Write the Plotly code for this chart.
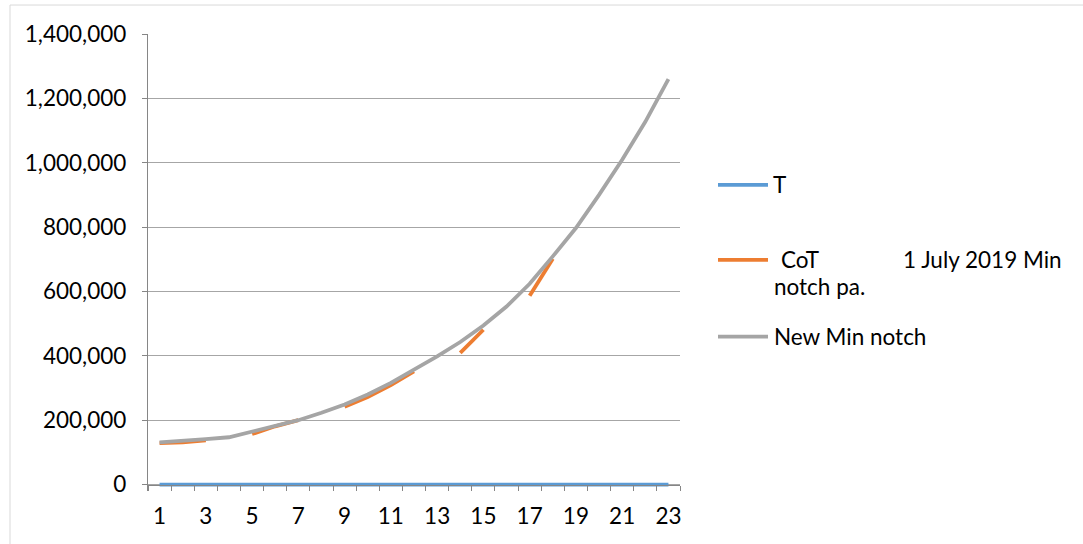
import plotly.graph_objects as go

# Categories along the x axis
periods = list(range(1, 24))

# Series values
t_values = [0] * 23
cot_values = [129000, 131000, 137000, None, 157000, 181000, 200000, None,
              242000, 272000, 309000, 352000, None, 409000, 481000, None,
              587000, 702000, None, None, None, None, None]
new_min_notch = [131000, 135000, 141000, 147000, 165000, 183000, 200000, 223000,
                 249000, 280000, 316000, 357000, 398000, 443000, 494000, 553000,
                 624000, 709000, 797000, 900000, 1009000, 1127000, 1260000]

# Axis tick labels
x_tick_labels = [str(p) for p in range(1, 24, 2)]
y_tick_values = [0, 200000, 400000, 600000, 800000, 1000000, 1200000, 1400000]

series_names = ["T", "CoT", "New Min notch"]
colors = ["#5b9bd5", "#ed7d31", "#a5a5a5"]

W, H = 1083, 544
Y_MAX = 1400000
Y_LOW = -20000            # small headroom below zero so the zero-valued line is not clipped
ZERO_PX, TOP_PX = 485, 34
px_per_unit = (ZERO_PX - TOP_PX) / Y_MAX
ML, MR, MT = 148, 403, TOP_PX
MB = H - ZERO_PX - (-Y_LOW) * px_per_unit
PW, PH = W - ML - MR, H - MT - MB


def px_x(px):
    return (px - ML) / PW


def px_y(py):
    return (H - MB - py) / PH


FONT = "Lato"
FS = 22.5
TEXT_COLOR = "#000000"
LW = 3.8

fig = go.Figure()
for name, vals, col in zip(series_names, [t_values, cot_values, new_min_notch], colors):
    fig.add_trace(go.Scatter(
        x=periods, y=vals, name=name, mode="lines",
        line=dict(color=col, width=LW), connectgaps=False,
        showlegend=False, hoverinfo="x+y+name",
    ))

# Legend drawn as line samples plus labels
legend_rows = [185, 260, 337]
shapes = []
for row, col in zip(legend_rows, colors):
    shapes.append(dict(type="line", xref="paper", yref="paper",
                       x0=px_x(718), x1=px_x(768), y0=px_y(row), y1=px_y(row),
                       line=dict(color=col, width=LW)))
# Outer chart frame
shapes.append(dict(type="rect", xref="paper", yref="paper",
                   x0=px_x(10), x1=px_x(1100), y0=px_y(560), y1=px_y(5),
                   line=dict(color="#d9d9d9", width=1), fillcolor="rgba(0,0,0,0)",
                   layer="below"))

annotations = []


def add_label(text, px, py):
    annotations.append(dict(text=text, xref="paper", yref="paper",
                            x=px_x(px), y=px_y(py), xanchor="left", yanchor="middle",
                            showarrow=False, font=dict(family=FONT, size=FS, color=TEXT_COLOR)))


add_label("T", 771, legend_rows[0])
add_label("CoT", 779, legend_rows[1])
add_label("1 July 2019 Min", 901, legend_rows[1])
add_label("notch pa.", 772, legend_rows[1] + 27)
add_label("New Min notch", 772, legend_rows[2])

fig.update_layout(
    width=W, height=H,
    margin=dict(l=ML, r=MR, t=MT, b=MB, pad=0),
    paper_bgcolor="white", plot_bgcolor="white",
    showlegend=False,
    shapes=shapes, annotations=annotations,
    font=dict(family=FONT, size=FS, color=TEXT_COLOR),
    xaxis=dict(
        range=[0.5, 23.5], tickmode="array",
        tickvals=list(range(1, 24, 2)), ticktext=x_tick_labels,
        ticks="", showgrid=False, zeroline=False,
        anchor="free", position=(0 - Y_LOW) / (Y_MAX - Y_LOW),
        showline=True, linecolor="#868686", linewidth=1.3,
        ticklabelstandoff=11,
        minor=dict(ticks="outside", tick0=0.5, dtick=1, ticklen=5,
                   tickcolor="#868686", tickwidth=1, showgrid=False),
        tickfont=dict(family=FONT, size=FS, color=TEXT_COLOR),
    ),
    yaxis=dict(
        range=[Y_LOW, Y_MAX], tickmode="array", tickvals=y_tick_values,
        tickformat=",d", ticks="outside", ticklen=5, tickcolor="#868686",
        showgrid=True, gridcolor="#a6a6a6", gridwidth=1.3, zeroline=False,
        showline=True, linecolor="#868686", linewidth=1.3,
        ticklabelstandoff=11,
        tickfont=dict(family=FONT, size=FS, color=TEXT_COLOR),
    ),
)

fig.write_html("out.html")
